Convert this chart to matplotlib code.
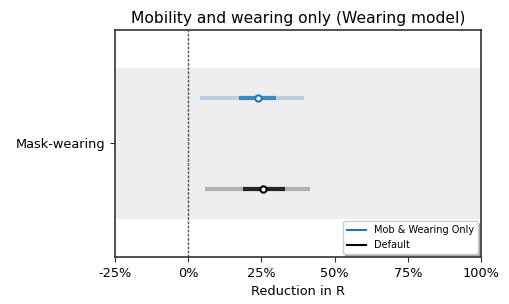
import matplotlib
matplotlib.use('Agg')
import matplotlib.pyplot as plt
import numpy as np

series = ['Mob & Wearing Only', 'Default']
colors = ['tab:blue', 'k']
medians = [23.9, 25.7]
q25 = [17.3, 18.7]
q75 = [30.1, 32.9]
lo95 = [4.1, 5.8]
hi95 = [39.6, 41.7]
xticks = [-25, 0, 25, 50, 75, 100]

fig = plt.figure(figsize=(5.09, 3.04), dpi=100)
ax = fig.add_axes([0.226, 0.155, 0.719, 0.746])
ypos = [0.3, -0.3]
ax.axhspan(-0.5, 0.5, color='#eeeeee', zorder=0, linewidth=0)
ax.axvline(0, color='#555555', linestyle='--', linewidth=1.0, dashes=(2, 1))
for i in range(len(series)):
    y = ypos[i]
    ax.plot([lo95[i], hi95[i]], [y, y], color=colors[i], alpha=0.25, linewidth=3, solid_capstyle='butt')
    ax.plot([q25[i], q75[i]], [y, y], color=colors[i], alpha=0.8, linewidth=3, solid_capstyle='butt')
    ax.plot([medians[i]], [y], marker='o', markersize=4.5, color=colors[i], markerfacecolor='white', markeredgewidth=1.5)
handles = [plt.Line2D([], [], color=c, linewidth=1.5) for c in colors]
ax.legend(handles, series, loc='lower right', fontsize=7, shadow=True, fancybox=True, framealpha=1,
          borderaxespad=0.3)
ax.set_xlim(-25, 100)
ax.set_ylim(-0.75, 0.75)
for s in ax.spines.values():
    s.set_color('#333333')
    s.set_linewidth(1.2)
ax.tick_params(length=3.5, color='#333333')
ax.set_xticks(xticks)
ax.set_xticklabels([f'{t}%' for t in xticks], fontsize=9.3)
ax.set_yticks([0])
ax.set_yticklabels(['Mask-wearing'], fontsize=9.3)
ax.set_xlabel('Reduction in R', fontsize=9.3)
ax.set_title('Mobility and wearing only (Wearing model)', fontsize=11.2, pad=5)
fig.savefig('out.png', dpi=100)
